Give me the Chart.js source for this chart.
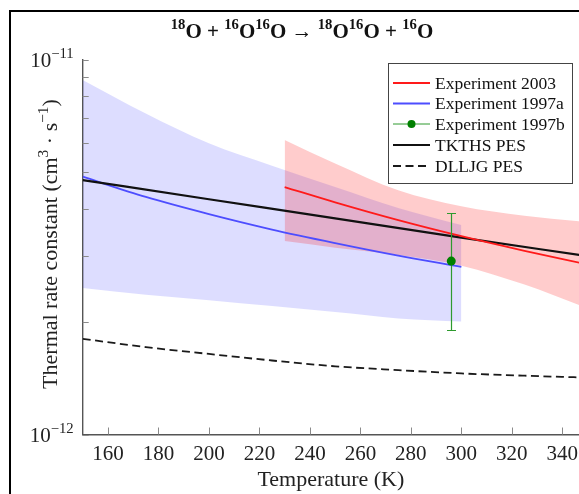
<!DOCTYPE html>
<html><head><meta charset="utf-8">
<script src="https://cdn.jsdelivr.net/npm/chart.js@4/dist/chart.umd.min.js"></script>
<style>html,body{margin:0;padding:0;background:#fff;overflow:hidden}</style>
</head><body>
<canvas id="c" width="579" height="494"></canvas>
<script>
// ---- data (rate constants in cm^3 s^-1) ----
const xTicks = [160,180,200,220,240,260,280,300,320,340];
const yTicks = [1e-12,2e-12,3e-12,4e-12,5e-12,6e-12,7e-12,8e-12,9e-12,1e-11];
const yLabelTicks = [1e-12, 1e-11];
const yLabelExps = ['−12', '−11'];

// Experiment 1997a (fit + uncertainty band)
const blueT     = [150, 175, 200, 225, 250, 275, 300];
const blueK     = [4.87e-12, 4.30e-12, 3.87e-12, 3.52e-12, 3.24e-12, 3.00e-12, 2.80e-12];
const blueUpper = [8.82e-12, 7.18e-12, 5.98e-12, 5.21e-12, 4.57e-12, 4.02e-12, 3.62e-12];
const blueLower = [2.46e-12, 2.36e-12, 2.28e-12, 2.20e-12, 2.12e-12, 2.04e-12, 2.00e-12];

// Experiment 2003 (fit + uncertainty band)
const redT     = [230, 250, 275, 300, 325, 347];
const redK     = [4.57e-12, 4.16e-12, 3.73e-12, 3.38e-12, 3.09e-12, 2.87e-12];
const redUpper = [6.10e-12, 5.28e-12, 4.48e-12, 4.06e-12, 3.83e-12, 3.70e-12];
const redLower = [3.28e-12, 3.15e-12, 3.01e-12, 2.82e-12, 2.51e-12, 2.21e-12];

// Experiment 1997b (single point with error bar)
const greenT = [296];
const greenK = [2.90e-12];
const greenErrHigh = [3.89e-12];
const greenErrLow  = [1.90e-12];

// TKTHS PES
const tkthsT = [150, 200, 250, 300, 347];
const tkthsK = [4.77e-12, 4.24e-12, 3.77e-12, 3.35e-12, 3.01e-12];

// DLLJG PES
const dlljgT = [150, 175, 200, 225, 250, 275, 300, 325, 347];
const dlljgK = [1.80e-12, 1.71e-12, 1.64e-12, 1.575e-12, 1.52e-12, 1.485e-12, 1.455e-12, 1.435e-12, 1.42e-12];

// ---- helpers ----
const pts = (xs, ys) => xs.map((x, i) => ({x: x, y: ys[i]}));
const SERIF = '"Liberation Serif", "DejaVu Serif", serif';
const ERR_GREEN = '#2e9a2e';

function segFont(s, size, weight) {
  return `${weight} ${s.sup ? size * 0.7 : size}px ${SERIF}`;
}
function richWidth(ctx, segs, size, weight) {
  let w = 0;
  for (const s of segs) { ctx.font = segFont(s, size, weight); w += ctx.measureText(s.t).width; }
  return w;
}
function drawRich(ctx, segs, x, y, size, weight, align) {
  const w = richWidth(ctx, segs, size, weight);
  let cx = align === 'center' ? x - w / 2 : (align === 'right' ? x - w : x);
  ctx.textAlign = 'left';
  ctx.textBaseline = 'alphabetic';
  for (const s of segs) {
    ctx.font = segFont(s, size, weight);
    ctx.fillText(s.t, cx, s.sup ? y - size * 0.42 : y);
    cx += ctx.measureText(s.t).width;
  }
}

const titleSegs = [
  {t:'18', sup:true}, {t:'O + '}, {t:'16', sup:true}, {t:'O'}, {t:'16', sup:true}, {t:'O → '},
  {t:'18', sup:true}, {t:'O'}, {t:'16', sup:true}, {t:'O + '}, {t:'16', sup:true}, {t:'O'}
];
const yTitleSegs = [
  {t:'Thermal rate constant (cm'}, {t:'3', sup:true}, {t:' · s'}, {t:'−1', sup:true}, {t:')'}
];

const GREEN_INDEX = 8;

const deco = {
  id: 'deco',
  beforeDraw(chart) {
    const ctx = chart.ctx;
    ctx.save();
    ctx.fillStyle = '#fff';
    ctx.fillRect(0, 0, chart.width, chart.height);
    ctx.restore();
  },
  beforeDatasetDraw(chart, args) {
    if (args.index !== GREEN_INDEX) return;
    const ctx = chart.ctx, xs = chart.scales.x, ys = chart.scales.y;
    ctx.save();
    ctx.strokeStyle = ERR_GREEN;
    ctx.lineWidth = 1.2;
    for (let i = 0; i < greenT.length; i++) {
      const px = Math.round(xs.getPixelForValue(greenT[i])) + 0.5;
      const y1 = Math.round(ys.getPixelForValue(greenErrHigh[i])) + 0.5;
      const y2 = Math.round(ys.getPixelForValue(greenErrLow[i])) + 0.5;
      ctx.beginPath();
      ctx.moveTo(px, y1); ctx.lineTo(px, y2);
      ctx.moveTo(px - 4.5, y1); ctx.lineTo(px + 4.5, y1);
      ctx.moveTo(px - 4.5, y2); ctx.lineTo(px + 4.5, y2);
      ctx.stroke();
    }
    ctx.restore();
  },
  afterDatasetsDraw(chart) {
    const ctx = chart.ctx;
    // legend box
    const L = {x: 388, y: 63, w: 184, h: 120};
    ctx.save();
    ctx.fillStyle = '#fff';
    ctx.fillRect(L.x, L.y, L.w, L.h);
    ctx.strokeStyle = '#444';
    ctx.lineWidth = 1;
    ctx.strokeRect(L.x + 0.5, L.y + 0.5, L.w, L.h);
    const entries = [
      {label: chart.data.datasets[4].label, color: chart.data.datasets[4].borderColor, w: 2, dash: []},
      {label: chart.data.datasets[6].label, color: chart.data.datasets[6].borderColor, w: 2, dash: []},
      {label: chart.data.datasets[GREEN_INDEX].label, color: ERR_GREEN, w: 1, dash: [], dot: '#008000'},
      {label: chart.data.datasets[5].label, color: chart.data.datasets[5].borderColor, w: 2.2, dash: []},
      {label: chart.data.datasets[7].label, color: chart.data.datasets[7].borderColor, w: 2, dash: [8, 4.5]},
    ];
    const rows = [83, 103.5, 124, 145, 166];
    entries.forEach((e, i) => {
      const yy = rows[i];
      ctx.strokeStyle = e.color;
      ctx.lineWidth = e.w;
      ctx.setLineDash(e.dash);
      ctx.beginPath(); ctx.moveTo(393, yy); ctx.lineTo(430, yy); ctx.stroke();
      ctx.setLineDash([]);
      if (e.dot) {
        ctx.fillStyle = e.dot;
        ctx.beginPath(); ctx.arc(411.5, yy, 4, 0, Math.PI * 2); ctx.fill();
      }
      ctx.fillStyle = '#111';
      ctx.font = `17.5px ${SERIF}`;
      ctx.textAlign = 'left';
      ctx.textBaseline = 'middle';
      ctx.fillText(e.label, 435, yy + 1);
    });
    ctx.restore();
  },
  afterDraw(chart) {
    const ctx = chart.ctx, xs = chart.scales.x, ys = chart.scales.y, a = chart.chartArea;
    ctx.save();
    // inward tick marks
    ctx.strokeStyle = '#8a8a8a';
    ctx.lineWidth = 1;
    ctx.beginPath();
    xTicks.forEach(v => {
      const px = Math.round(xs.getPixelForValue(v)) + 0.5;
      ctx.moveTo(px, a.bottom); ctx.lineTo(px, a.bottom - 7);
    });
    yTicks.forEach(v => {
      const py = Math.round(ys.getPixelForValue(v)) + 0.5;
      ctx.moveTo(a.left, py); ctx.lineTo(a.left + 6, py);
    });
    ctx.stroke();
    // y tick labels (10^n)
    ctx.fillStyle = '#222';
    yLabelTicks.forEach((v, i) => {
      const py = ys.getPixelForValue(v);
      drawRich(ctx, [{t:'10'}, {t: yLabelExps[i], sup: true}], a.left - 9, py + 7, 21, 'normal', 'right');
    });
    // y axis title
    ctx.save();
    ctx.translate(57, (a.top + a.bottom) / 2 - 3);
    ctx.rotate(-Math.PI / 2);
    drawRich(ctx, yTitleSegs, 0, 0, 22, 'normal', 'center');
    ctx.restore();
    // main title
    ctx.fillStyle = '#111';
    drawRich(ctx, titleSegs, 302, 38, 21, 'bold', 'center');
    // outer frame
    ctx.strokeStyle = '#000';
    ctx.lineWidth = 2;
    ctx.strokeRect(10, 11, 800, 800);
    ctx.restore();
  }
};

const lineDs = (label, xs, ys, color, width, extra) => Object.assign({
  label: label, data: pts(xs, ys), borderColor: color, borderWidth: width,
  pointRadius: 0, fill: false, cubicInterpolationMode: 'monotone', order: 1
}, extra || {});

new Chart(document.getElementById('c'), {
  type: 'line',
  data: {
    datasets: [
      {label: 'band 1997a upper', data: pts(blueT, blueUpper), fill: '+1', backgroundColor: 'rgba(0,0,255,0.135)',
        borderWidth: 0, pointRadius: 0, cubicInterpolationMode: 'monotone', order: 3},
      {label: 'band 1997a lower', data: pts(blueT, blueLower), fill: false, borderWidth: 0, pointRadius: 0,
        cubicInterpolationMode: 'monotone', order: 3},
      {label: 'band 2003 upper', data: pts(redT, redUpper), fill: '+1', backgroundColor: 'rgba(255,0,0,0.2)',
        borderWidth: 0, pointRadius: 0, cubicInterpolationMode: 'monotone', order: 2},
      {label: 'band 2003 lower', data: pts(redT, redLower), fill: false, borderWidth: 0, pointRadius: 0,
        cubicInterpolationMode: 'monotone', order: 2},
      lineDs('Experiment 2003', redT, redK, '#ff1a1a', 1.8),
      lineDs('TKTHS PES', tkthsT, tkthsK, '#111', 2.2),
      lineDs('Experiment 1997a', blueT, blueK, '#4d4dff', 1.8),
      lineDs('DLLJG PES', dlljgT, dlljgK, '#1a1a1a', 1.8, {borderDash: [8, 4.5]}),
      {label: 'Experiment 1997b', data: pts(greenT, greenK), showLine: false, pointRadius: 4.5,
        pointBackgroundColor: '#008000', pointBorderColor: '#008000', pointBorderWidth: 0, order: 0}
    ]
  },
  options: {
    responsive: false,
    animation: false,
    events: [],
    layout: {autoPadding: false, padding: {left: 0, right: 0, top: 59.5, bottom: 0}},
    plugins: {legend: {display: false}, tooltip: {enabled: false}, title: {display: false}},
    scales: {
      x: {
        type: 'linear', min: 150, max: 346.6,
        afterBuildTicks(s) { s.ticks = xTicks.map(v => ({value: v})); },
        afterFit(s) { s.height = 59.5; s.paddingLeft = 0; s.paddingRight = 0; },
        grid: {display: false, drawTicks: false},
        border: {display: true, color: '#555', width: 1.4},
        ticks: {color: '#222', padding: 7, font: {family: SERIF, size: 21}, maxRotation: 0, autoSkip: false},
        title: {display: true, text: 'Temperature (K)', color: '#222', font: {family: SERIF, size: 22},
          padding: {top: 0, bottom: 1}}
      },
      y: {
        type: 'logarithmic', min: 1e-12, max: 1e-11,
        afterBuildTicks(s) { s.ticks = yTicks.map(v => ({value: v})); },
        afterFit(s) { s.width = 82.7; s.paddingTop = 0; s.paddingBottom = 0; },
        grid: {display: false, drawTicks: false},
        border: {display: true, color: '#555', width: 1.4},
        ticks: {display: false}
      }
    }
  },
  plugins: [deco]
});
</script>
</body></html>
